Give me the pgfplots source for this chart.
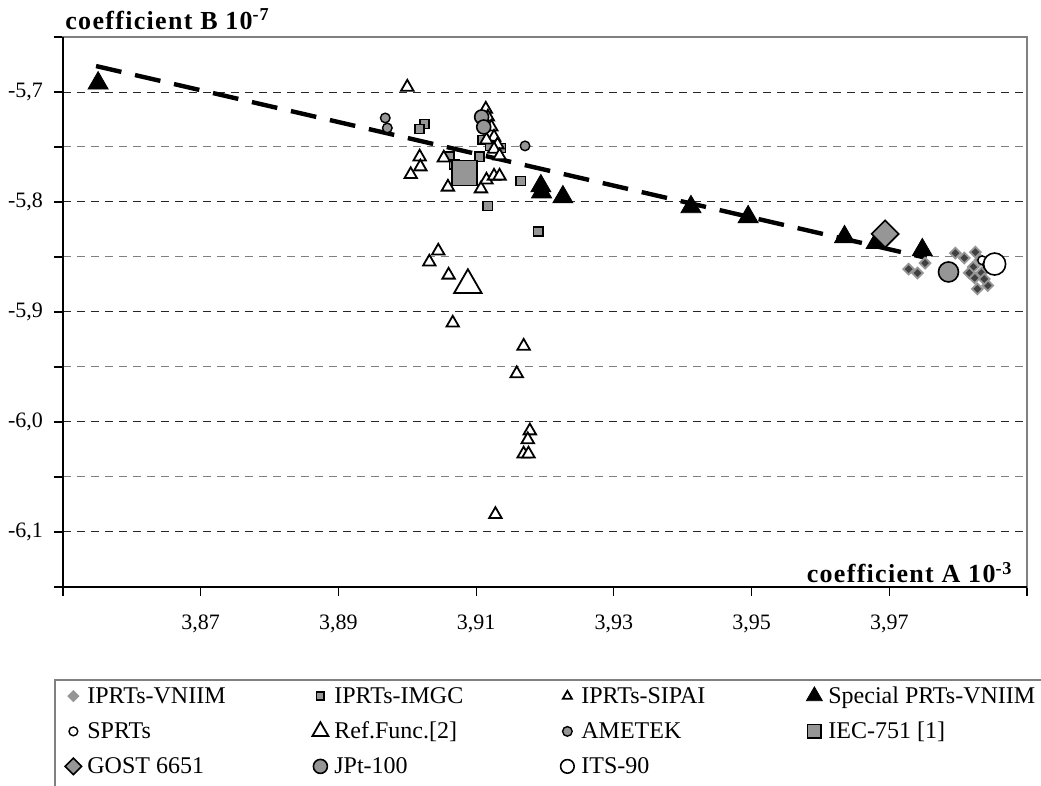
\documentclass[border=0pt]{standalone}
\usepackage{fontspec}
\setmainfont{Liberation Serif}
\usepackage{pgfplots}
\pgfplotsset{compat=1.18}

\definecolor{mgray}{RGB}{150,150,150}
\definecolor{bgray}{RGB}{128,128,128}

% one mark per legend entry, fixed cell width so the columns line up
\pgfplotsset{
  pts/.style={/tikz/only marks,
    legend image code/.code={\path[draw=none, fill=none] (-6pt,-3pt) rectangle (7pt,4pt);
      \draw[##1] plot coordinates {(0pt,0.8pt)};}},
}
\newcommand{\lgd}[1]{\makebox[110.5pt][l]{\fontsize{12}{14}\selectfont #1}}
\newcommand{\ttl}[1]{{\fontsize{13}{15}\bfseries\addfontfeatures{LetterSpace=5}#1}}

\begin{document}
\begin{tikzpicture}[font=\fontsize{11}{13}\selectfont]
\path[use as bounding box] (-31.5pt,-99.5pt) rectangle (489pt,293.5pt);
\clip (-31.5pt,-99.5pt) rectangle (489pt,293.5pt);
\begin{axis}[
    at={(0pt,0pt)}, anchor=south west,
    scale only axis,
    width=482pt, height=275pt,
    xmin=3.85, xmax=3.99,
    ymin=-6.15, ymax=-5.65,
    xtick={3.85,3.87,3.89,3.91,3.93,3.95,3.97,3.99},
    xticklabels={{},{3,87},{3,89},{3,91},{3,93},{3,95},{3,97},{}},
    ytick={-6.1,-6.0,-5.9,-5.8,-5.7},
    yticklabels={{-6,1},{-6,0},{-5,9},{-5,8},{-5,7}},
    minor ytick={-6.15,-6.05,-5.95,-5.85,-5.75,-5.65},
    ymajorgrids, yminorgrids,
    major grid style={black!85, line width=0.5pt, dash pattern=on 4.2pt off 2.8pt},
    minor grid style={gray, line width=0.5pt, dash pattern=on 4.2pt off 2.8pt},
    tick align=outside,
    xtick pos=bottom, ytick pos=left,
    major tick length=4.5pt, minor tick length=4.5pt,
    every tick/.style={black, line width=0.6pt},
    axis line style={bgray, line width=0.8pt},
    xticklabel shift=6pt,
    yticklabel style={xshift=-2pt},
    clip=false,
    legend columns=4,
    legend cell align=left,
    legend style={at={(0,0)}, anchor=north west, xshift=-4pt, yshift=-46.5pt,
        draw=none, fill=none, inner xsep=3pt, inner ysep=3.25pt,
        row sep=7pt, column sep=0pt,
        nodes={inner sep=0pt, text height=8pt, text depth=2.5pt}},
]

\addplot[pts, mark=square*, mark size=1.9pt,
    mark options={rotate=45, fill=black!75, draw=mgray, line width=0.9pt},
    legend image post style={mark size=1.7pt, every mark/.append style={fill=mgray}}]
coordinates {
    (3.9728,-5.861) (3.9741,-5.8645) (3.9752,-5.8555) (3.9796,-5.8464)
    (3.9809,-5.8509) (3.9825,-5.8455) (3.9822,-5.859) (3.9824,-5.869)
    (3.9834,-5.8645) (3.9828,-5.879) (3.9843,-5.876) (3.9816,-5.8645)
    (3.9832,-5.8527) (3.9838,-5.870)
};
\addlegendentry{\lgd{IPRTs-VNIIM}}

\addplot[pts, mark=square*, mark size=2.3pt,
    mark options={fill=mgray, draw=black, line width=0.8pt},
    legend image post style={mark size=1.9pt}]
coordinates {
    (3.9025,-5.729) (3.9018,-5.7336) (3.9061,-5.759) (3.9105,-5.759)
    (3.9109,-5.7436) (3.9120,-5.749) (3.9136,-5.751) (3.9165,-5.781)
    (3.9117,-5.8036) (3.9190,-5.827) (3.9068,-5.766)
};
\addlegendentry{\lgd{IPRTs-IMGC}}

\addplot[pts, mark=triangle*, mark size=3.6pt,
    mark options={fill=white, draw=black, line width=0.9pt},
    legend image post style={mark size=2.6pt}]
coordinates {
    (3.9000,-5.6955) (3.9018,-5.759) (3.9019,-5.768) (3.9005,-5.775)
    (3.9053,-5.760) (3.9059,-5.7864) (3.9114,-5.7155) (3.9117,-5.7227)
    (3.9122,-5.7318) (3.9126,-5.741) (3.9115,-5.7436) (3.9131,-5.748)
    (3.9126,-5.752) (3.9134,-5.758) (3.9107,-5.788) (3.9115,-5.780)
    (3.9126,-5.7764) (3.9134,-5.7764) (3.9045,-5.8445) (3.9032,-5.8545)
    (3.9060,-5.8664) (3.9066,-5.910) (3.9169,-5.931) (3.9159,-5.956)
    (3.9178,-6.008) (3.9175,-6.016) (3.9169,-6.029) (3.9176,-6.029)
    (3.9128,-6.084)
};
\addlegendentry{\lgd{IPRTs-SIPAI}}

\addplot[pts, mark=triangle*, mark size=5.8pt,
    mark options={fill=black, draw=black},
    legend image post style={mark size=4.6pt}]
coordinates {
    (3.8551,-5.692) (3.9194,-5.7855) (3.9195,-5.791) (3.9226,-5.7955)
    (3.9412,-5.8045) (3.9495,-5.8136) (3.9635,-5.8318) (3.9681,-5.837)
    (3.9748,-5.8436)
};
\addlegendentry{\lgd{Special PRTs-VNIIM}}

\addplot[pts, mark=*, mark size=2.2pt,
    mark options={fill=white, draw=black, line width=0.7pt}]
coordinates {
    (3.9835,-5.853) (3.9842,-5.857)
};
\addlegendentry{\lgd{SPRTs}}

\addplot[pts, mark=triangle*, mark size=7.9pt,
    mark options={fill=white, draw=black, line width=0.9pt},
    legend image post style={mark size=4.6pt}]
coordinates {
    (3.9088,-5.8755)
};
\addlegendentry{\lgd{Ref.Func.[2]}}

\addplot[pts, mark=*, mark size=2.4pt,
    mark options={fill=mgray, draw=black, line width=0.7pt}]
coordinates {
    (3.8968,-5.7236) (3.8971,-5.7327) (3.9171,-5.749)
};
\addlegendentry{\lgd{AMETEK}}

\addplot[pts, mark=square*, mark size=6.2pt,
    mark options={fill=mgray, draw=black, line width=0.8pt},
    legend image post style={mark size=3.4pt}]
coordinates {
    (3.9083,-5.7736)
};
\addlegendentry{\lgd{IEC-751 [1]}}

\addplot[pts, mark=square*, mark size=4.8pt,
    mark options={rotate=45, fill=mgray, draw=black, line width=0.8pt},
    legend image post style={mark size=2.9pt}]
coordinates {
    (3.9694,-5.829)
};
\addlegendentry{\lgd{GOST 6651}}

\addplot[pts, mark=*, mark size=3.5pt,
    mark options={fill=mgray, draw=black, line width=0.8pt}]
coordinates {
    (3.9108,-5.7227) (3.9111,-5.7318)
};
\addlegendentry{\lgd{JPt-100}}
\addplot[pts, forget plot, mark=*, mark size=5pt,
    mark options={fill=mgray, draw=black, line width=0.8pt}]
coordinates {
    (3.9786,-5.8636)
};

\addplot[pts, mark=*, mark size=5.5pt,
    mark options={fill=white, draw=black, line width=0.8pt},
    legend image post style={mark size=3.4pt}]
coordinates {
    (3.9853,-5.8564)
};
\addlegendentry{\lgd{ITS-90}}

% trend line
\addplot[forget plot, black, line width=2.2pt, dash pattern=on 13pt off 7pt]
coordinates {
    (3.8548,-5.6764) (3.9754,-5.8508)
};

\draw[black, line width=0.8pt] (rel axis cs:0,1) -- (rel axis cs:0,0) -- (rel axis cs:1,0);

\node[anchor=base west, inner sep=0pt, xshift=1pt, yshift=4pt] at (rel axis cs:0,1)
    {\ttl{coefficient B 10\textsuperscript{-7}}};
\node[anchor=base east, inner sep=0pt, xshift=-7pt, yshift=2pt] at (rel axis cs:1,0)
    {\ttl{coefficient A 10\textsuperscript{-3}}};

\end{axis}
% legend frame, cut by the page edges as in the original
\draw[bgray, line width=0.6pt] (-4pt,-120pt) |- (520pt,-46.5pt);
\end{tikzpicture}
\end{document}
